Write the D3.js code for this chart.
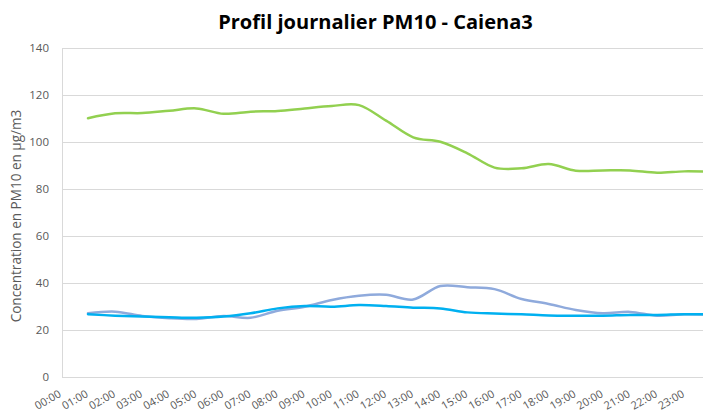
<!DOCTYPE html>
<html>
<head>
<meta charset="utf-8">
<script src="https://cdn.jsdelivr.net/npm/d3@7"></script>
<style>
  html, body { margin: 0; padding: 0; background: #fff; }
  svg { display: block; }
</style>
</head>
<body>
<svg id="chart" width="703" height="412"></svg>
<script>
const categories = ["00:00","01:00","02:00","03:00","04:00","05:00","06:00","07:00","08:00","09:00","10:00","11:00",
                    "12:00","13:00","14:00","15:00","16:00","17:00","18:00","19:00","20:00","21:00","22:00","23:00"];
const seriesGreen  = [110.1,112.2,112.3,113.3,114.3,112.0,112.9,113.2,114.3,115.3,115.7,109.1,
                      102.0,100.1,95.2,89.1,88.8,90.6,87.8,87.9,87.9,86.9,87.5,87.3];
const seriesPurple = [27.1,27.8,26.0,25.0,24.7,26.0,25.2,28.2,29.9,32.8,34.6,35.0,
                      33.0,38.7,38.2,37.4,33.2,31.1,28.5,27.1,27.7,26.1,26.7,26.5];
const seriesBlue   = [26.7,26.1,25.7,25.4,25.2,25.7,27.1,29.2,30.2,29.9,30.6,30.2,
                      29.5,29.2,27.5,27.0,26.7,26.2,26.1,26.1,26.4,26.4,26.7,26.7];
const yTicks = [0,20,40,60,80,100,120,140];
const titleText = "Profil journalier PM10 - Caiena3";
const yTitle = "Concentration en PM10 en µg/m3";

const svg = d3.select("#chart");
const plotLeft = 62, plotRight = 703, plotTop = 48, plotBottom = 377;
const step = 27.1;
const font = "'Open Sans', 'Noto Sans', sans-serif";

const x = d3.scalePoint().domain(categories).range([88, 88 + step * (categories.length - 1)]);
const y = d3.scaleLinear().domain([0, 140]).range([plotBottom, plotTop]);

// gridlines
svg.append("g").selectAll("line").data(yTicks).join("line")
  .attr("x1", plotLeft).attr("x2", plotRight)
  .attr("y1", d => y(d)).attr("y2", d => y(d))
  .attr("stroke", "#d9d9d9").attr("stroke-width", 1).attr("shape-rendering", "crispEdges");
// left axis line
svg.append("line").attr("x1", plotLeft).attr("x2", plotLeft).attr("y1", plotTop).attr("y2", plotBottom)
  .attr("stroke", "#d9d9d9").attr("stroke-width", 1).attr("shape-rendering", "crispEdges");

// y axis labels
const yAxis = d3.axisLeft(y).tickValues(yTicks).tickSize(0).tickPadding(0);
const gy = svg.append("g").attr("transform", `translate(${plotLeft - 13},0)`).call(yAxis);
gy.select(".domain").remove();
gy.selectAll("text").attr("fill", "#595959").style("font-family", font).style("font-size", "11.5px");

// x axis labels (rotated)
const xAxis = d3.axisBottom(x).tickSize(0).tickPadding(0);
const gx = svg.append("g").attr("transform", `translate(0,${plotBottom})`).call(xAxis);
gx.select(".domain").remove();
gx.selectAll(".tick").attr("transform", d => `translate(${x(d) - step + 1},0)`);
gx.selectAll("text")
  .attr("fill", "#595959").style("font-family", font).style("font-size", "11px")
  .attr("text-anchor", "end").attr("dy", null).attr("y", null)
  .attr("transform", "translate(0,19) rotate(-30)");

// lines
const line = d3.line().x((d, i) => x(categories[i])).y(d => y(d)).curve(d3.curveCardinal.tension(0));
const series = [
  {values: seriesGreen, color: "#92d050"},
  {values: seriesPurple, color: "#8faadc"},
  {values: seriesBlue, color: "#00b0f0"}
];
svg.append("g").selectAll("path").data(series).join("path")
  .attr("d", d => line(d.values))
  .attr("fill", "none").attr("stroke", d => d.color)
  .attr("stroke-width", 2.5).attr("stroke-linejoin", "round").attr("stroke-linecap", "round");

// title
const t = svg.append("text").attr("x", 375.5).attr("y", 29).attr("text-anchor", "middle")
  .style("font-family", font).style("font-weight", "bold").style("font-size", "18px")
  .attr("fill", "#000").text(titleText);
const tw = t.node().getComputedTextLength();
t.style("font-size", (18 * 315 / tw) + "px");

// y axis title
const yt = svg.append("text").attr("transform", "translate(21,216) rotate(-90)").attr("text-anchor", "middle")
  .style("font-family", font).style("font-size", "12px").attr("fill", "#595959").text(yTitle);
const ytw = yt.node().getComputedTextLength();
yt.style("font-size", (12 * 213 / ytw) + "px");
</script>
</body>
</html>
